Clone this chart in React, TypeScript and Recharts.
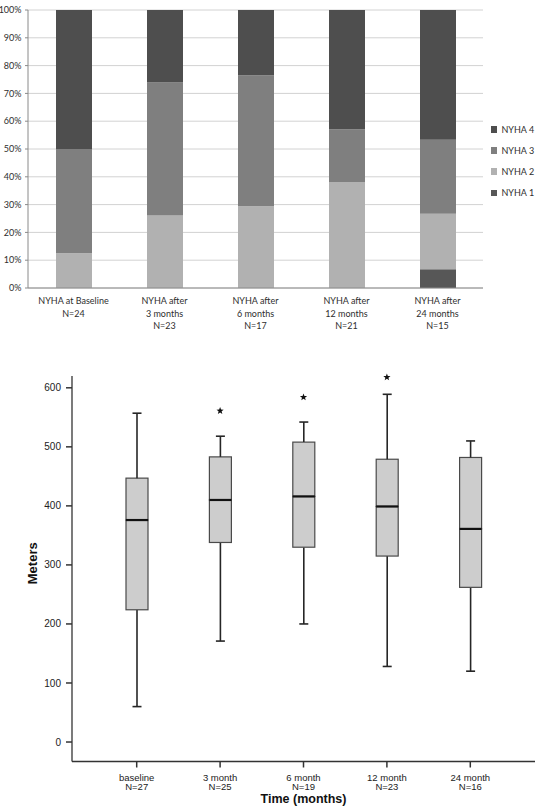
import React from 'react';
import {
  BarChart,
  Bar,
  XAxis,
  YAxis,
  CartesianGrid,
  Legend,
  ComposedChart,
  Scatter,
} from 'recharts';

// ---- NYHA class distribution per visit (percent of patients) ----
const visitKeys = ['baseline', 'm3', 'm6', 'm12', 'm24'];
const visitLabels = [
  ['NYHA at Baseline', 'N=24'],
  ['NYHA after', '3 months', 'N=23'],
  ['NYHA after', '6 months', 'N=17'],
  ['NYHA after', '12 months', 'N=21'],
  ['NYHA after', '24 months', 'N=15'],
];
const nyha1 = [0, 0, 0, 0, 6.7];
const nyha2 = [12.5, 26.1, 29.4, 38.1, 20.0];
const nyha3 = [37.5, 47.8, 47.1, 19.0, 26.6];
const nyha4 = [50.0, 26.1, 23.5, 42.9, 46.7];
const percentTicks = [0, 10, 20, 30, 40, 50, 60, 70, 80, 90, 100];

// ---- six-minute walk distance (meters) per visit ----
const timeLabels = ['baseline', '3 month', '6 month', '12 month', '24 month'];
const timeN = ['N=27', 'N=25', 'N=19', 'N=23', 'N=16'];
const walkMin = [60, 171, 200, 128, 120];
const walkQ1 = [224, 338, 330, 315, 262];
const walkMedian = [376, 410, 416, 399, 361];
const walkQ3 = [447, 483, 508, 479, 482];
const walkMax = [557, 518, 542, 589, 510];
const starMarks: (number | null)[] = [null, 561, 584, 618, null];
const meterTicks = [0, 100, 200, 300, 400, 500, 600];

const C1 = '#575757';
const C2 = '#b1b1b1';
const C3 = '#7f7f7f';
const C4 = '#4e4e4e';

const classRows = visitKeys.map((k, i) => ({
  visit: k,
  n1: nyha1[i],
  n2: nyha2[i],
  n3: nyha3[i],
  n4: nyha4[i],
}));

const boxRows = timeLabels.map((t, i) => ({
  time: t,
  base: walkMin[i],
  lowW: walkQ1[i] - walkMin[i],
  lowBox: walkMedian[i] - walkQ1[i],
  highBox: walkQ3[i] - walkMedian[i],
  highW: walkMax[i] - walkQ3[i],
  star: starMarks[i],
}));

const legendItems = [
  { label: 'NYHA 4', color: C4 },
  { label: 'NYHA 3', color: C3 },
  { label: 'NYHA 2', color: C2 },
  { label: 'NYHA 1', color: C1 },
];

const topFont = 'Lato, "Open Sans", sans-serif';
const botFont = '"Liberation Sans", Arial, sans-serif';

const VisitTick = (props: any) => {
  const { x, y, payload } = props;
  const idx = visitKeys.indexOf(payload.value);
  const lines = visitLabels[idx] || [];
  return (
    <text x={x} y={y} textAnchor="middle" fontFamily={topFont} fontSize={9} fill="#2e2e2e">
      {lines.map((l, i) => (
        <tspan key={i} x={x} dy={i === 0 ? 8 : 12.6}>
          {l}
        </tspan>
      ))}
    </text>
  );
};

const TimeTick = (props: any) => {
  const { x, y, payload } = props;
  const idx = timeLabels.indexOf(payload.value);
  return (
    <text x={x} y={y} textAnchor="middle" fontFamily={botFont} fontSize={9.5} fill="#222">
      <tspan x={x} dy={11}>{timeLabels[idx]}</tspan>
      <tspan x={x} dy={9.6}>{timeN[idx]}</tspan>
    </text>
  );
};

const WhiskerLow = (p: any) => {
  const { x, y, width, height } = p;
  const cx = x + width / 2;
  return (
    <g>
      <line x1={cx} x2={cx} y1={y} y2={y + height} stroke="#262626" strokeWidth={1.6} />
      <line x1={cx - 4.5} x2={cx + 4.5} y1={y + height} y2={y + height} stroke="#262626" strokeWidth={1.6} />
    </g>
  );
};

const WhiskerHigh = (p: any) => {
  const { x, y, width, height } = p;
  const cx = x + width / 2;
  return (
    <g>
      <line x1={cx} x2={cx} y1={y} y2={y + height} stroke="#262626" strokeWidth={1.6} />
      <line x1={cx - 4.5} x2={cx + 4.5} y1={y} y2={y} stroke="#262626" strokeWidth={1.6} />
    </g>
  );
};

const BoxLower = (p: any) => {
  const { x, y, width, height } = p;
  return <rect x={x} y={y} width={width} height={height} fill="#cdcdcd" stroke="#4a4a4a" strokeWidth={1.2} />;
};

const BoxUpper = (p: any) => {
  const { x, y, width, height } = p;
  return (
    <g>
      <rect x={x} y={y} width={width} height={height} fill="#cdcdcd" stroke="#4a4a4a" strokeWidth={1.2} />
      <line x1={x} x2={x + width} y1={y + height} y2={y + height} stroke="#111" strokeWidth={2.2} />
    </g>
  );
};

const StarMark = (p: any) => {
  const { cx, cy, payload } = p;
  if (payload == null || payload.star == null) return <g />;
  const pts: string[] = [];
  for (let k = 0; k < 10; k++) {
    const r = k % 2 === 0 ? 3.8 : 1.6;
    const a = -Math.PI / 2 + (k * Math.PI) / 5;
    pts.push(`${cx + r * Math.cos(a)},${cy + r * Math.sin(a)}`);
  }
  return <polygon points={pts.join(' ')} fill="#111" />;
};

const ClassLegend = () => (
  <div style={{ fontFamily: topFont, fontSize: 9, color: '#2e2e2e' }}>
    {legendItems.map((it) => (
      <div key={it.label} style={{ display: 'flex', alignItems: 'center', height: 21.2 }}>
        <div style={{ width: 6.5, height: 6.5, background: it.color, marginRight: 4.5 }} />
        <span>{it.label}</span>
      </div>
    ))}
  </div>
);

export default function App() {
  return (
    <div style={{ position: 'absolute', left: 0, top: 0, width: 537, height: 806, background: '#fff', overflow: 'hidden' }}>
      <div style={{ position: 'absolute', left: 0, top: 0 }}>
        <BarChart
          width={537}
          height={345}
          data={classRows}
          margin={{ top: 10, right: 54, left: 0, bottom: 7 }}
          barSize={36}
        >
          <CartesianGrid vertical={false} stroke="#d2d2d2" strokeWidth={1} />
          <XAxis
            xAxisId="marks"
            type="number"
            domain={[0, 5]}
            ticks={[0, 1, 2, 3, 4, 5]}
            allowDataOverflow
            height={0}
            axisLine={false}
            tickSize={3}
            tickLine={{ stroke: '#777' }}
            tickFormatter={() => ''}
          />
          <XAxis
            xAxisId="cat"
            dataKey="visit"
            height={50}
            axisLine={{ stroke: '#8a8a8a' }}
            tickLine={false}
            tick={<VisitTick />}
            interval={0}
          />
          <YAxis
            width={28}
            domain={[0, 100]}
            ticks={percentTicks}
            tickFormatter={(v: number) => `${v}%`}
            axisLine={{ stroke: '#8a8a8a' }}
            tickLine={{ stroke: '#8a8a8a' }}
            tickSize={3}
            tickMargin={3.5}
            tick={{ fontFamily: topFont, fontSize: 9, fill: '#2e2e2e' }}
            interval={0}
          />
          <Legend
            layout="vertical"
            align="center"
            verticalAlign="middle"
            wrapperStyle={{ left: 490.5, top: 118.7, width: 46 }}
            content={() => <ClassLegend />}
          />
          <Bar xAxisId="cat" dataKey="n1" name="NYHA 1" stackId="s" fill={C1} isAnimationActive={false} />
          <Bar xAxisId="cat" dataKey="n2" name="NYHA 2" stackId="s" fill={C2} isAnimationActive={false} />
          <Bar xAxisId="cat" dataKey="n3" name="NYHA 3" stackId="s" fill={C3} isAnimationActive={false} />
          <Bar xAxisId="cat" dataKey="n4" name="NYHA 4" stackId="s" fill={C4} isAnimationActive={false} />
        </BarChart>
      </div>
      <div style={{ position: 'absolute', left: 0, top: 345 }}>
        <ComposedChart
          width={537}
          height={461}
          data={boxRows}
          margin={{ top: 31, right: 2, left: 0, bottom: 0 }}
          barSize={22}
        >
          <XAxis
            dataKey="time"
            height={44.5}
            padding={{ left: 23, right: 23 }}
            axisLine={{ stroke: '#333', strokeWidth: 1.3 }}
            tickLine={{ stroke: '#333', strokeWidth: 1.5 }}
            tickSize={6}
            tickMargin={2}
            tick={<TimeTick />}
            interval={0}
            label={{
              content: (lp: any) => {
                const vb = lp.viewBox || { x: 72, y: 416.5, width: 463 };
                return (
                  <text
                    x={vb.x + vb.width / 2}
                    y={vb.y + 41.5}
                    textAnchor="middle"
                    fontFamily={botFont}
                    fontWeight="bold"
                    fontSize={12.5}
                    fill="#111"
                  >
                    Time (months)
                  </text>
                );
              },
            }}
          />
          <YAxis
            width={72}
            domain={[-33, 620]}
            ticks={meterTicks}
            axisLine={{ stroke: '#333', strokeWidth: 1.3 }}
            tickLine={{ stroke: '#333', strokeWidth: 1.5 }}
            tickSize={6}
            tickMargin={5}
            tick={{ fontFamily: botFont, fontSize: 10, fill: '#222' }}
            interval={0}
            label={{
              content: (lp: any) => {
                const vb = lp.viewBox || { x: 0, y: 31, width: 72, height: 385.5 };
                const lx = vb.x + 37;
                const ly = vb.y + vb.height / 2 - 5.5;
                return (
                  <text
                    x={lx}
                    y={ly}
                    transform={`rotate(-90, ${lx}, ${ly})`}
                    textAnchor="middle"
                    fontFamily={botFont}
                    fontWeight="bold"
                    fontSize={13}
                    fill="#111"
                  >
                    Meters
                  </text>
                );
              },
            }}
          />
          <Bar dataKey="base" stackId="b" fill="none" shape={() => <g />} isAnimationActive={false} />
          <Bar dataKey="lowW" stackId="b" shape={<WhiskerLow />} isAnimationActive={false} />
          <Bar dataKey="lowBox" stackId="b" shape={<BoxLower />} isAnimationActive={false} />
          <Bar dataKey="highBox" stackId="b" shape={<BoxUpper />} isAnimationActive={false} />
          <Bar dataKey="highW" stackId="b" shape={<WhiskerHigh />} isAnimationActive={false} />
          <Scatter dataKey="star" shape={<StarMark />} isAnimationActive={false} />
        </ComposedChart>
      </div>
    </div>
  );
}
